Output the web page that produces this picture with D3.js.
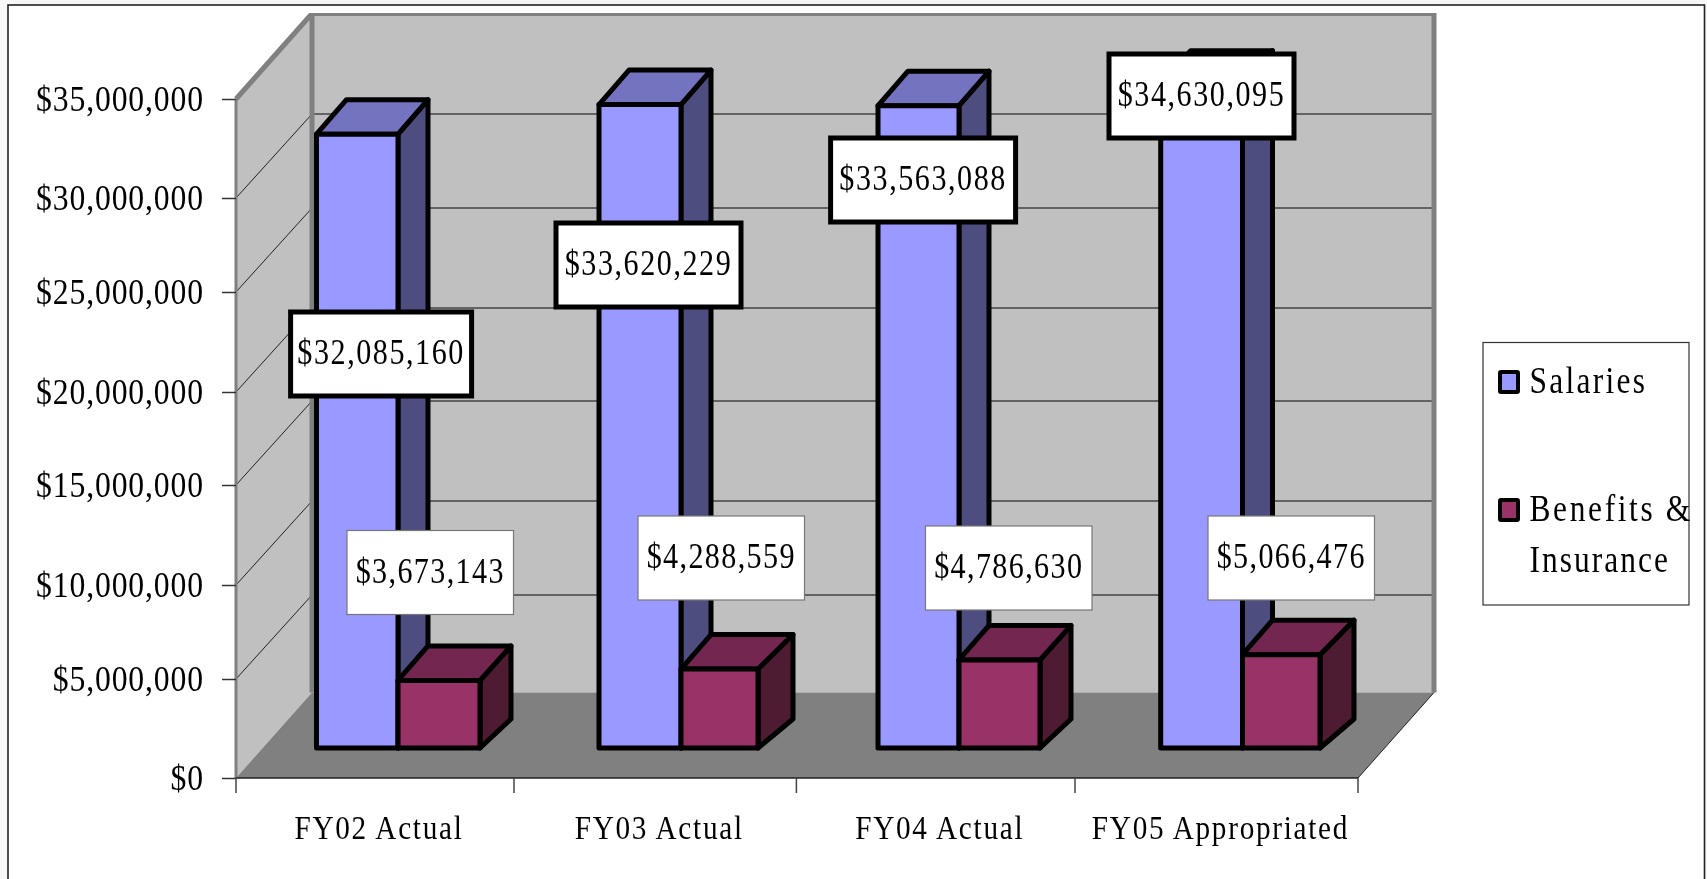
<!DOCTYPE html>
<html><head><meta charset="utf-8">
<script src="https://cdn.jsdelivr.net/npm/d3@7/dist/d3.min.js"></script>
<style>
html,body{margin:0;padding:0;background:#f6f6f6;overflow:hidden}
text{font-family:"Liberation Serif",serif;fill:#000}
</style></head><body>
<svg id="c" width="1707" height="879"></svg>
<script>
const categories = ["FY02 Actual","FY03 Actual","FY04 Actual","FY05 Appropriated"];
const salaries = [32085160,33620229,33563088,34630095];
const benefits = [3673143,4288559,4786630,5066476];
const yTicks = [0,5000000,10000000,15000000,20000000,25000000,30000000,35000000];
const seriesNames = ["Salaries","Benefits & Insurance"];

const svg = d3.select("#c");
const fmt = d3.format("$,.0f");

svg.append("defs").append("filter").attr("id","soft").attr("x",0).attr("y",0).attr("width","100%").attr("height","100%")
   .append("feGaussianBlur").attr("stdDeviation",0.45);

// plot frame
const F = {left:236,right:1358,bottom:778,top:99,dx:76,dy:85.5};
const y = d3.scaleLinear().domain(yTicks).range([778,679,585,485,392,292,198,99]);
const x = d3.scaleOrdinal().domain(categories).range([236,514,796.4,1075]);
// the bars stand part-way into the floor and have their own foreshortened scale
const barY = d3.scaleLinear().domain([0,5000000,35000000]).range([748,656,78]);
const barLeft  = d3.scaleOrdinal().domain(categories).range([316.5,599,878,1160.7]);
const barSplit = d3.scaleOrdinal().domain(categories).range([398,681,959,1242.5]);
const barRight = d3.scaleOrdinal().domain(categories).range([480,758,1040,1320]);
const backDx   = d3.scaleOrdinal().domain(categories).range([31,35,31,34]);
const bdx = 30, bdy = 34.5, baseDy = 29, gridDy = 84;

svg.append("rect").attr("x",8).attr("y",5).attr("width",1696.5).attr("height",890)
   .attr("fill","#fff").attr("stroke","#222").attr("stroke-width",1.6);

const g = svg.append("g").attr("filter","url(#soft)");
const pts = a => a.map(p=>p.join(",")).join(" ");
const L=F.left,R=F.right,B=F.bottom,T=F.top,DX=F.dx,DY=F.dy;

// walls and floor
g.append("polygon").attr("points",pts([[L+DX,T-DY],[R+DX,T-DY],[R+DX,B-DY],[L+DX,B-DY]])).attr("fill","#c0c0c0");
g.append("polygon").attr("points",pts([[L,T],[L+DX,T-DY],[L+DX,B-DY],[L,B]])).attr("fill","#c0c0c0");
g.append("polygon").attr("points",pts([[L,B],[L+DX,B-DY],[R+DX,B-DY],[R,B]])).attr("fill","#808080");

// gridlines
yTicks.slice(1,-1).forEach(v=>{
  g.append("line").attr("x1",L+DX).attr("x2",R+DX).attr("y1",y(v)-gridDy).attr("y2",y(v)-gridDy)
    .attr("stroke","#444").attr("stroke-width",1.5);
  g.append("line").attr("x1",L).attr("x2",L+DX).attr("y1",y(v)).attr("y2",y(v)-gridDy)
    .attr("stroke","#222").attr("stroke-width",1);
});
// wall edges
g.append("polyline").attr("points",pts([[L,T],[L+DX,T-DY],[R+DX,T-DY],[R+DX,B-DY]]))
  .attr("fill","none").attr("stroke","#808080").attr("stroke-width",5);
g.append("line").attr("x1",L+DX).attr("x2",L+DX).attr("y1",T-DY).attr("y2",B-DY).attr("stroke","#808080").attr("stroke-width",5);
g.append("line").attr("x1",L).attr("x2",L).attr("y1",T).attr("y2",B).attr("stroke","#808080").attr("stroke-width",3);
g.append("line").attr("x1",R).attr("x2",R+DX).attr("y1",B).attr("y2",B-DY).attr("stroke","#222").attr("stroke-width",1);

// text helper: the source type is tall, narrow and loosely spaced
function squeeze(sel,tx,ty,size,sx,ls,anchor){
  return sel.attr("x",0).attr("y",0).attr("dy",null).attr("dx",null)
    .attr("transform",`translate(${tx},${ty}) scale(${sx},1)`)
    .attr("font-size",size).attr("text-anchor",anchor).style("letter-spacing",ls+"px");
}

// axes
const yAxis = d3.axisLeft(y).tickValues(yTicks).tickFormat(fmt).tickSize(14).tickPadding(19);
const ya = g.append("g").attr("transform",`translate(${L},0)`).call(yAxis);
ya.select(".domain").remove();
ya.selectAll("line").attr("stroke","#333").attr("stroke-width",1.5);
ya.selectAll("text").each(function(){ squeeze(d3.select(this),-32,11,36,0.88,1.0,"end"); });

g.append("line").attr("x1",L).attr("x2",R).attr("y1",B).attr("y2",B).attr("stroke","#222").attr("stroke-width",1.5);
categories.map(c=>x(c)).concat([R]).forEach(e=>g.append("line").attr("x1",e).attr("x2",e).attr("y1",B).attr("y2",B+15).attr("stroke","#444").attr("stroke-width",1.5));
categories.forEach((c,i)=>{
  const next = i<categories.length-1 ? x(categories[i+1]) : R;
  squeeze(g.append("text").text(c),(x(c)+next)/2+4,839,34,0.86,2,"middle");
});

// 3D bars
function bar(x0,x1,top,base,ddx,front,topC,side){
  const s=g.append("g").attr("stroke","#000").attr("stroke-width",5).attr("stroke-linejoin","round");
  s.append("polygon").attr("points",pts([[x1,top],[x1+ddx,top-bdy],[x1+ddx,base-baseDy],[x1,base]])).attr("fill",side);
  s.append("polygon").attr("points",pts([[x0,top],[x0+bdx,top-bdy],[x1+ddx,top-bdy],[x1,top]])).attr("fill",topC);
  s.append("rect").attr("x",x0).attr("y",top).attr("width",x1-x0).attr("height",base-top).attr("fill",front);
}
const colS=["#9999ff","#7373bf","#4d4d80"], colB=["#993366","#732650","#4d1a33"];
categories.forEach((c,i)=>{
  bar(barLeft(c),barSplit(c),barY(salaries[i]),barY(0),bdx,...colS);
  bar(barSplit(c),barRight(c),barY(benefits[i]),barY(0),backDx(c),...colB);
});

// data labels, placed as in the source chart
const labelW=[181,185,185,185], labelX=[290.6,556,830.6,1109], labelY=[312,223,138,54];
const bLabelX=[347,638,925.5,1208], bLabelY=[530.5,516,526,516];
function label(xx,yy,w,h,txt,thick,ls){
  g.append("rect").attr("x",xx).attr("y",yy).attr("width",w).attr("height",h).attr("fill","#fff")
    .attr("stroke",thick?"#000":"#777").attr("stroke-width",thick?5:1.2);
  squeeze(g.append("text").text(txt),xx+w/2,yy+h/2+10,35,0.86,ls,"middle");
}
salaries.forEach((v,i)=>label(labelX[i],labelY[i],labelW[i],84,fmt(v),true,1.8));
benefits.forEach((v,i)=>label(bLabelX[i],bLabelY[i],166.5,84,fmt(v),false,1.6));

// legend
const leg=g.append("g");
leg.append("rect").attr("x",1483).attr("y",342.5).attr("width",206).attr("height",262.5).attr("fill","#fff").attr("stroke","#333").attr("stroke-width",1.2);
[[colS[0],372],[colB[0],500]].forEach(([c,yy])=>leg.append("rect").attr("x",1500).attr("y",yy).attr("width",18).attr("height",20).attr("fill",c).attr("stroke","#000").attr("stroke-width",4).attr("rx",1));
squeeze(leg.append("text").text(seriesNames[0]),1529.5,393,37,0.85,2.7,"start");
const parts=seriesNames[1].split(" ");
squeeze(leg.append("text").text(parts[0]+" "+parts[1]),1529.5,521,37,0.85,3.1,"start");
squeeze(leg.append("text").text(parts[2]),1529.5,572,37,0.85,2.4,"start");
</script></body></html>
